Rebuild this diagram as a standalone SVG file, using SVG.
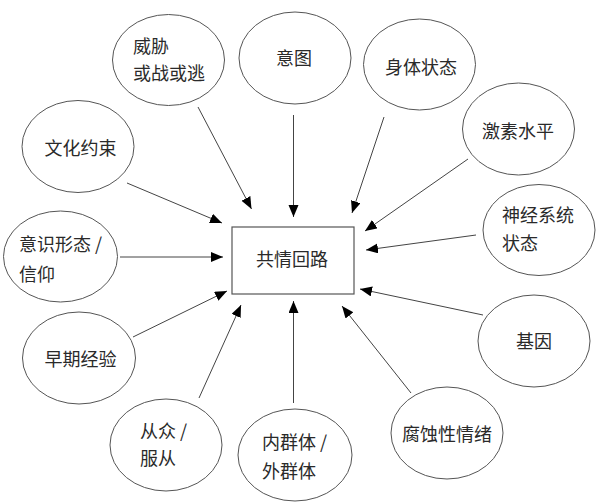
<svg xmlns="http://www.w3.org/2000/svg" width="600" height="503" viewBox="0 0 600 503">
<style>
.n ellipse{fill:#fff;stroke:#555;stroke-width:1}
.box{fill:#fff;stroke:#555;stroke-width:1.2}
text{font-family:"Noto Sans CJK SC","Noto Sans",sans-serif;font-size:18px;fill:#2a2a2a;dominant-baseline:central}
.c{text-anchor:middle}
#edges line{stroke:#444;stroke-width:1;marker-end:url(#ah)}
</style>
<defs>
<marker id="ah" markerUnits="userSpaceOnUse" markerWidth="13" markerHeight="11" refX="12" refY="5" orient="auto">
<path d="M0,0 L12,5 L0,10 z" fill="#000"/>
</marker>
</defs>
<rect width="600" height="503" fill="#fff"/>
<g id="edges">
<line x1="198" y1="107" x2="251.5" y2="209"/>
<line x1="293.5" y1="115" x2="293.5" y2="217"/>
<line x1="384" y1="117" x2="352" y2="213"/>
<line x1="468" y1="159" x2="365" y2="231"/>
<line x1="476" y1="235" x2="366" y2="250"/>
<line x1="127" y1="183" x2="222" y2="223"/>
<line x1="120" y1="257" x2="223" y2="257"/>
<line x1="133" y1="337" x2="227" y2="291"/>
<line x1="199" y1="398" x2="241" y2="305"/>
<line x1="293.5" y1="403" x2="293.5" y2="301"/>
<line x1="411" y1="393" x2="342" y2="306"/>
<line x1="483" y1="315" x2="360" y2="289"/>
</g>
<g id="center">
<rect class="box" x="232" y="227" width="122" height="67"/>
<text class="c" x="292" y="258">共情回路</text>
</g>
<g id="n-threat" class="n">
<ellipse cx="168.5" cy="60" rx="56" ry="45.5"/>
<text x="133" y="45">威胁</text>
<text x="133" y="72">或战或逃</text>
</g>
<g id="n-intent" class="n">
<ellipse cx="295" cy="58" rx="56" ry="46"/>
<text class="c" x="294" y="57">意图</text>
</g>
<g id="n-body" class="n">
<ellipse cx="419.5" cy="64.5" rx="56" ry="45.5"/>
<text class="c" x="421" y="65.5">身体状态</text>
</g>
<g id="n-hormone" class="n">
<ellipse cx="518.5" cy="129" rx="56" ry="46"/>
<text class="c" x="518" y="130">激素水平</text>
</g>
<g id="n-nerve" class="n">
<ellipse cx="539" cy="230" rx="56" ry="45.5"/>
<text x="502" y="214">神经系统</text>
<text x="502" y="242">状态</text>
</g>
<g id="n-culture" class="n">
<ellipse cx="78" cy="146.5" rx="56" ry="46"/>
<text class="c" x="80.5" y="146.5">文化约束</text>
</g>
<g id="n-ideology" class="n">
<ellipse cx="60.5" cy="256.5" rx="57" ry="45.5"/>
<text x="19" y="243">意识形态 /</text>
<text x="19" y="273">信仰</text>
</g>
<g id="n-early" class="n">
<ellipse cx="79" cy="358" rx="56.5" ry="46"/>
<text class="c" x="80.5" y="358">早期经验</text>
</g>
<g id="n-conform" class="n">
<ellipse cx="166" cy="445" rx="56" ry="46"/>
<text x="140" y="430">从众 /</text>
<text x="140" y="457">服从</text>
</g>
<g id="n-group" class="n">
<ellipse cx="295" cy="455" rx="57" ry="46"/>
<text x="262" y="441">内群体 /</text>
<text x="262" y="470">外群体</text>
</g>
<g id="n-corrosive" class="n">
<ellipse cx="447" cy="433" rx="56" ry="46"/>
<text class="c" x="447" y="433">腐蚀性情绪</text>
</g>
<g id="n-gene" class="n">
<ellipse cx="534" cy="341" rx="56" ry="46"/>
<text class="c" x="534" y="340">基因</text>
</g>
</svg>
